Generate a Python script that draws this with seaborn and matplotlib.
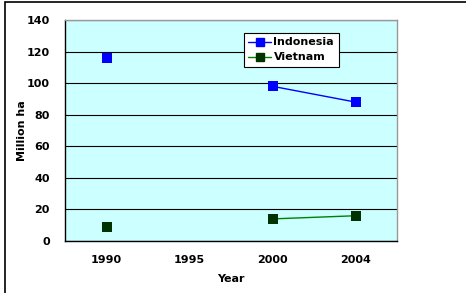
import numpy as np
import pandas as pd
import matplotlib
matplotlib.use("Agg")
import matplotlib.pyplot as plt
import seaborn as sns
from matplotlib.patches import Rectangle
from matplotlib.lines import Line2D

years = ["1990", "1995", "2000", "2004"]
indonesia = [116, np.nan, 98, 88]
vietnam = [9, np.nan, 14, 16]

sns.set_style("white")
plt.rcParams["font.family"] = ["DejaVu Sans"]
plt.rcParams["font.weight"] = "bold"
for k in ["text.color", "axes.labelcolor", "xtick.color", "ytick.color"]:
    plt.rcParams[k] = "black"

fig = plt.figure(figsize=(4.66, 2.93), dpi=100)
ax = fig.add_axes([65/466, 1-241/293, (397-65)/466, (241-20)/293])
ax.set_facecolor("#CCFFFF")

series = {"Indonesia": (indonesia, "#0000FF", "#0000FF"),
          "Vietnam": (vietnam, "#008000", "#003300")}

rows = []
for name, (vals, lc, mc) in series.items():
    seg = 0
    prev_nan = True
    for i, v in enumerate(vals):
        if np.isnan(v):
            prev_nan = True
            continue
        if prev_nan:
            seg += 1
        prev_nan = False
        rows.append({"x": i, "y": v, "series": name, "seg": f"{name}{seg}"})
df = pd.DataFrame(rows)

handles = []
for name, (vals, lc, mc) in series.items():
    d = df[df["series"] == name]
    sns.lineplot(data=d, x="x", y="y", units="seg", estimator=None,
                 color=lc, linewidth=1.0, ax=ax, legend=False)
    sns.scatterplot(data=d, x="x", y="y", color=mc, marker="s", s=50,
                    edgecolor=mc, linewidth=0, ax=ax, legend=False, zorder=5)
    handles.append(Line2D([0], [0], color=lc, lw=1.0, marker="s",
                          markersize=5.5, markerfacecolor=mc, markeredgecolor=mc,
                          label=name))

ax.set_xlim(-0.5, len(years) - 0.5)
ax.set_ylim(0, 140)
ax.set_yticks(np.arange(0, 141, 20))
ax.set_xticks(range(len(years)))
ax.set_xticklabels(years, fontsize=8, fontweight="bold")
ax.set_xticks(np.arange(-0.5, len(years), 1.0), minor=True)
ax.tick_params(axis="x", which="major", length=0, pad=10)
ax.tick_params(axis="x", which="minor", direction="in", length=4, width=0.8, color="black")
ax.tick_params(axis="y", which="major", direction="out", length=3, width=0.8,
               color="black", labelsize=8, pad=8)
for lab in ax.get_yticklabels():
    lab.set_fontweight("bold")

ax.yaxis.grid(True, color="black", linewidth=0.8)
ax.xaxis.grid(False)
ax.set_axisbelow(True)

for side in ["left", "bottom"]:
    ax.spines[side].set_color("black")
    ax.spines[side].set_linewidth(1.0)
for side in ["top", "right"]:
    ax.spines[side].set_color("#999999")
    ax.spines[side].set_linewidth(1.0)
    ax.spines[side].set_visible(True)

ax.set_xlabel("Year", fontsize=8, fontweight="bold")
ax.xaxis.set_label_coords(0.5, -(279-241)/221, transform=ax.transAxes)
ax.xaxis.label.set_va("center")
ax.set_ylabel("Million ha", fontsize=8, fontweight="bold")
ax.yaxis.set_label_coords(-(65-22)/332, 0.5, transform=ax.transAxes)
ax.yaxis.label.set_va("center")

leg = ax.legend(handles=handles, loc="upper left",
                bbox_to_anchor=((244-65)/332, (241-33)/221),
                frameon=True, fancybox=False, framealpha=1, edgecolor="black",
                fontsize=8, handlelength=2.0, handletextpad=0.25,
                borderpad=0.4, labelspacing=0.45, borderaxespad=0)
leg.get_frame().set_linewidth(0.8)
for t in leg.get_texts():
    t.set_fontweight("bold")

fig.patches.append(Rectangle((5/466, -0.1), 1.2, 1.1 - 1.5/293,
                             transform=fig.transFigure, fill=False,
                             edgecolor="black", linewidth=1.2))

fig.savefig("out.png", dpi=100)
